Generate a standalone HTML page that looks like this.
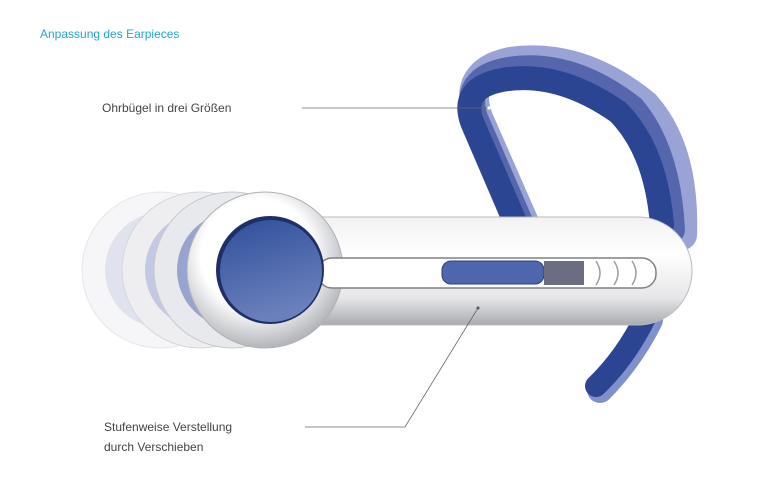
<!DOCTYPE html>
<html><head><meta charset="utf-8"><style>
body{margin:0;background:#fff;}
svg{display:block}
text{font-family:"Liberation Sans",sans-serif;}
</style></head><body>
<svg width="768" height="493" viewBox="0 0 768 493">
<defs>
<linearGradient id="bar" x1="0" y1="0" x2="0" y2="1">
<stop offset="0" stop-color="#f2f2f4"/><stop offset="0.35" stop-color="#ffffff"/><stop offset="0.75" stop-color="#e6e6e8"/><stop offset="1" stop-color="#a9abb0"/>
</linearGradient>
<radialGradient id="ring" cx="0.45" cy="0.4" r="0.6">
<stop offset="0.6" stop-color="#ffffff"/><stop offset="1" stop-color="#b3b5ba"/>
</radialGradient>
<linearGradient id="disc" x1="0" y1="0" x2="0.3" y2="1">
<stop offset="0" stop-color="#2f4e9a"/><stop offset="1" stop-color="#6a80bc"/>
</linearGradient>
</defs>
<text x="40" y="38" font-size="12" fill="#1ea5d6">Anpassung des Earpieces</text>

<!-- ear hook layers -->
<path d="M525 225 L478 118 Q462 72 510 62 Q580 52 645 105 Q685 150 682 235" fill="none" stroke="#9aa3d6" stroke-width="30" stroke-linecap="round"/>
<path d="M520 222 L475 118 Q462 78 508 70 Q570 60 632 108 Q668 150 672 230" fill="none" stroke="#5566ad" stroke-width="26" stroke-linecap="round"/>
<path d="M515 222 L472 122 Q460 88 502 80 Q558 70 618 112 Q656 150 662 225" fill="none" stroke="#2c4592" stroke-width="24" stroke-linecap="round"/>
<path d="M650 320 Q630 360 600 390" fill="none" stroke="#8090cc" stroke-width="26" stroke-linecap="round"/>
<path d="M645 318 Q625 358 596 386" fill="none" stroke="#2c4592" stroke-width="22" stroke-linecap="round"/>

<!-- back rings -->
<circle cx="160" cy="270" r="78" fill="#f6f6f8" stroke="#e6e6ea"/>
<circle cx="163" cy="270" r="58" fill="#e0e2ee"/>
<circle cx="200" cy="270" r="78" fill="#eeeef1" stroke="#d6d7dc"/>
<circle cx="203" cy="270" r="58" fill="#c3c9e2"/>
<circle cx="232" cy="270" r="78" fill="#e8e9ec" stroke="#c8c9ce"/>
<circle cx="235" cy="270" r="58" fill="#98a4d0"/>

<!-- bar -->
<path d="M300 217 L638 217 A54 54 0 0 1 638 325 L300 325 Z" fill="url(#bar)" stroke="#b8babf"/>
<circle cx="265" cy="270" r="78" fill="url(#ring)" stroke="#b0b2b7"/>
<!-- slot -->
<rect x="318" y="258" width="338" height="30" rx="14" fill="#ffffff" stroke="#7e8086" stroke-width="1.5"/>
<rect x="442" y="261" width="102" height="23" rx="9" fill="#4d66ae" stroke="#2d3f7a"/>
<rect x="544" y="261" width="40" height="24" fill="#6a6e80"/>
<path d="M596 261 q8 12 0 24 M614 261 q8 12 0 24 M632 261 q8 12 0 24" fill="none" stroke="#9a9ca2" stroke-width="1.5"/>
<circle cx="270" cy="270" r="54" fill="#1e2f66"/>
<circle cx="271" cy="271" r="51" fill="url(#disc)"/>

<!-- leaders -->
<line x1="302" y1="108" x2="489" y2="108" stroke="#666" stroke-width="0.8"/>
<circle cx="489" cy="108" r="1.6" fill="#fff"/>
<polyline points="305,427 405,427 478,308" fill="none" stroke="#666" stroke-width="0.8"/>
<circle cx="478" cy="308" r="1.5" fill="#555"/>
<text x="102" y="112" font-size="12" fill="#444">Ohrbügel in drei Größen</text>
<text x="104" y="431" font-size="12" fill="#444">Stufenweise Verstellung</text>
<text x="104" y="451" font-size="12" fill="#444">durch Verschieben</text>
</svg>
</body></html>
